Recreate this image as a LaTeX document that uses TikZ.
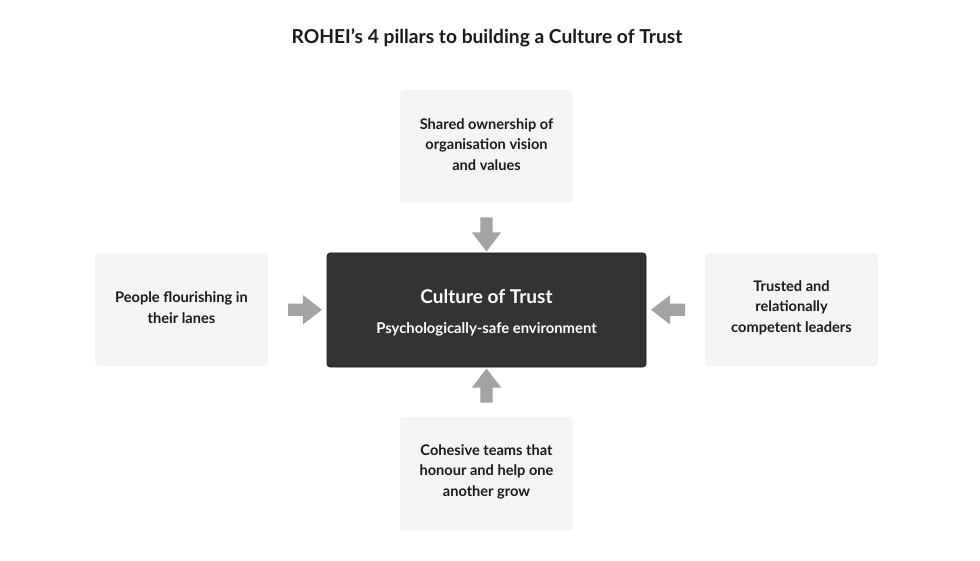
\documentclass[tikz,border=0pt]{standalone}
\usepackage{fontspec}
\setmainfont{Lato}
\usetikzlibrary{shapes.arrows,calc}
\definecolor{boxfill}{HTML}{F4F4F4}
\definecolor{corefill}{HTML}{333333}
\definecolor{arrowgray}{HTML}{A3A3A3}
\definecolor{txt}{HTML}{1A1A1A}
\tikzset{
  pillar/.style={fill=boxfill, draw=none, rounded corners=4pt, minimum width=173pt, minimum height=113pt,
    align=center, text=txt, font=\fontsize{14.6}{20.5}\selectfont\bfseries, inner sep=0pt},
  core/.style={fill=corefill, draw=black!90, line width=0.6pt, rounded corners=3pt, minimum width=319pt, minimum height=114pt, inner sep=0pt},
  blockarrow/.style={shape=single arrow, fill=arrowgray, draw=none, inner sep=6pt,
    single arrow head extend=8.5pt, single arrow tip angle=75, minimum height=34pt}
}
\begin{document}
\begin{tikzpicture}[x=1pt,y=-1pt]
\path[use as bounding box, fill=white] (0,0) rectangle (980,561);
\node[text=txt, font=\fontsize{19.2}{22}\selectfont\bfseries] (title) at (487,38) {ROHEI’s 4 pillars to building a Culture of Trust};
\node[pillar] (top) at (486.5,146.5) {};
\node[pillar] (left) at (181.5,309.5) {};
\node[pillar] (right) at (791.5,309.5) {};
\node[pillar] (bottom) at (486.5,473.5) {};
\node[pillar, fill=none, minimum size=0pt] (toptext) at (486.5,144.5) {Shared ownership of\\organisation vision\\and values};
\node[pillar, fill=none, minimum size=0pt] (lefttext) at (181.5,307.5) {People flourishing in\\their lanes};
\node[pillar, fill=none, minimum size=0pt] (righttext) at (791.5,307.5) {Trusted and\\relationally\\competent leaders};
\node[pillar, fill=none, minimum size=0pt] (bottomtext) at (486.5,471.5) {Cohesive teams that\\honour and help one\\another grow};
\node[core] (core) at (486.5,310) {};
\node[text=white, font=\fontsize{19}{22}\selectfont\bfseries] (coretitle) at (486.5,297) {Culture of Trust};
\node[text=white, font=\fontsize{14.8}{17}\selectfont\bfseries] (coresub) at (486.5,329.5) {Psychologically-safe environment};
\node[blockarrow, shape border rotate=270] (atop) at ($(top.south)!0.55!(core.north)$) {};
\node[blockarrow, shape border rotate=90] (abottom) at ($(bottom.north)!0.55!(core.south)$) {};
\node[blockarrow, shape border rotate=0] (aleft) at ($(left.east)!0.56!(core.west)$) {};
\node[blockarrow, shape border rotate=180] (aright) at ($(right.west)!0.56!(core.east)$) {};
\end{tikzpicture}
\end{document}
